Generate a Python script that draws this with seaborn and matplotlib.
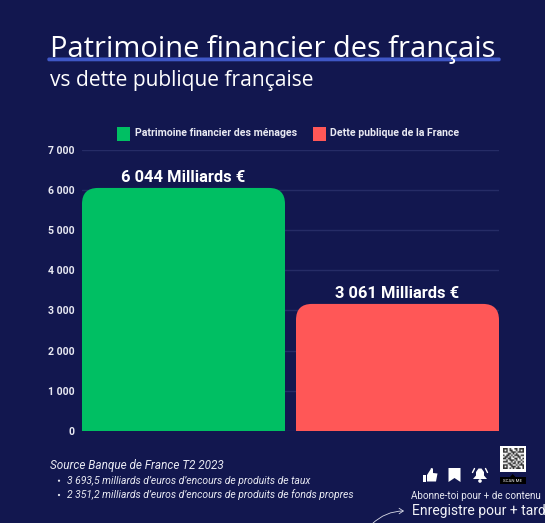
import numpy as np
import pandas as pd
import matplotlib
matplotlib.use("Agg")
import matplotlib.pyplot as plt
import seaborn as sns
from matplotlib.path import Path
from matplotlib.patches import PathPatch, Rectangle, FancyBboxPatch, Polygon, Circle, FancyArrowPatch

categories = ["Patrimoine financier des ménages", "Dette publique de la France"]
values = [6044, 3160]
value_labels = ["6 044 Milliards €", "3 061 Milliards €"]
colors = ["#00BF63", "#FF5757"]
yticks = [0, 1000, 2000, 3000, 4000, 5000, 6000, 7000]
ytick_labels = ["0", "1 000", "2 000", "3 000", "4 000", "5 000", "6 000", "7 000"]
title = "Patrimoine financier des français"
subtitle = "vs dette publique française"
source = "Source Banque de France T2 2023"
bullets = ["3 693,5 milliards d’euros d’encours de produits de taux",
           "2 351,2 milliards d’euros d’encours de produits de fonds propres"]

BG = "#12174F"
W, H = 545, 523
sns.set_theme(style="dark")
plt.rcParams["font.family"] = ["Roboto", "DejaVu Sans"]

fig = plt.figure(figsize=(W / 100, H / 100), dpi=100, facecolor=BG)
ax = fig.add_axes([82 / W, 1 - 431 / H, 417 / W, 281.5 / H], facecolor=BG)

df = pd.DataFrame({"cat": categories, "val": values})
sns.barplot(data=df, x="cat", y="val", hue="cat", palette=colors, width=203 / 214,
            legend=False, ax=ax, saturation=1)
ax.set_xlim(-101.5 / 214, 1 + 101.5 / 214)
ax.set_ylim(0, 7000)
ax.set_xlabel(""); ax.set_ylabel("")
ax.set_xticks([])
ax.set_yticks(yticks, ytick_labels, color="#E8E9F2", fontsize=7.6, fontweight="bold")
ax.tick_params(axis="y", length=0, pad=5.5)
ax.grid(axis="y", color="#262C66", lw=1)
ax.set_axisbelow(True)
for s in ax.spines.values():
    s.set_visible(False)

# Round the top corners of each bar, using each bar's own geometry
rx, ry = 16 / 214, 16 * 7000 / 281.5
for bar, lab in zip(list(ax.patches), value_labels):
    x0, w, h = bar.get_x(), bar.get_width(), bar.get_height()
    x1 = x0 + w
    verts = [(x0, 0), (x0, h - ry), (x0, h), (x0 + rx, h), (x1 - rx, h), (x1, h), (x1, h - ry), (x1, 0), (x0, 0)]
    codes = [Path.MOVETO, Path.LINETO, Path.CURVE3, Path.CURVE3, Path.LINETO, Path.CURVE3, Path.CURVE3, Path.LINETO, Path.CLOSEPOLY]
    ax.add_patch(PathPatch(Path(verts, codes), fc=bar.get_facecolor(), ec="none", zorder=3))
    bar.set_visible(False)
    ax.annotate(lab, (x0 + w / 2, h), xytext=(0, 1.8), textcoords="offset points", ha="center", va="bottom",
                color="white", fontsize=11.9, fontweight="bold")

# Overlay in pixel coordinates for the poster furniture
ov = fig.add_axes([0, 0, 1, 1], facecolor="none")
ov.set_xlim(0, W); ov.set_ylim(H, 0); ov.axis("off")

# Title
ov.add_patch(FancyBboxPatch((49, 59.2), 450, 0.4, boxstyle="round,pad=1.7", fc="#3F57C6", ec="none", zorder=1))
ov.text(50.5, 57.5, title, color="white", fontsize=20.9, family="Open Sans", fontweight=500, va="baseline", zorder=2)
ov.text(50.5, 86, subtitle, color="white", fontsize=15.1, family="Open Sans", fontweight=500, va="baseline", zorder=2)

# Legend
for x, c, lab in zip([117, 312.5], colors, categories):
    ov.add_patch(Rectangle((x, 127), 13, 14, fc=c, ec="none"))
    ov.text(x + 18, 133.3, lab, color="#E8E9F2", fontsize=7.6, fontweight="bold", va="center")

# Source
ov.text(50, 465, source, color="#E8E9F2", fontsize=8.45, style="italic", va="center")
for y, b in zip([480.7, 495], bullets):
    ov.add_patch(Circle((59, y), 1.1, fc="#E8E9F2", ec="none"))
    ov.text(67, y, b, color="#E8E9F2", fontsize=7.45, style="italic", va="center")

# Icons
ov.add_patch(Rectangle((423, 475), 3.2, 6.5, fc="white", ec="none"))
ov.add_patch(Polygon([(427, 475), (430.5, 469.5), (431, 468), (433, 468.5), (433, 473), (437.5, 473.5), (436, 481.5), (427, 481.5)], fc="white", ec="none"))
ov.add_patch(Polygon([(448.5, 468), (460.5, 468), (460.5, 482), (454.5, 478), (448.5, 482)], fc="white", ec="none"))
ov.add_patch(Polygon([(473, 479), (476, 475.5), (476, 472), (478.5, 468.5), (481.5, 468.5), (484, 472), (484, 475.5), (487, 479)], fc="white", ec="none"))
ov.add_patch(Circle((480, 481), 1.8, fc="white", ec="none"))
ov.plot([472.5, 474.5], [472.5, 468.5], color="white", lw=1)
ov.plot([487.5, 485.5], [472.5, 468.5], color="white", lw=1)

# QR
ov.add_patch(Rectangle((500, 446), 25.5, 25.7, fc="white", ec="none", zorder=1))
qr_rows = ["1110100110111", "1010110010101", "1110011101111", "0001101010000", "1011010111011",
           "0110101001100", "1101100110101", "0010111010010", "1110010101101", "0001101101010",
           "1110110010111", "1010011101001", "1110101011101"]
qr = np.array([[int(c) for c in r] for r in qr_rows])
ov.imshow(1 - qr * 0.8, cmap="gray", vmin=0, vmax=1, extent=(502.5, 523, 469.5, 449), interpolation="bilinear",
          aspect="auto", zorder=2)
ov.set_xlim(0, W); ov.set_ylim(H, 0)
ov.add_patch(Rectangle((499.5, 477), 26.5, 7, fc="black", ec="none"))
ov.add_patch(Polygon([(510, 477), (512.7, 474), (515.5, 477)], fc="black", ec="none"))
ov.text(512.7, 480.6, "SCAN ME", color="white", fontsize=3.2, ha="center", va="center")

ov.text(411, 496, "Abonne-toi pour + de contenu", color="#E8E9F2", fontsize=7.15, va="center")
ov.text(412, 510.7, "Enregistre pour + tard", color="#F2F3F8", fontsize=10.0, va="center")
ov.add_patch(FancyArrowPatch((372, 524), (404, 511), connectionstyle="arc3,rad=-0.2", arrowstyle="->,head_length=3,head_width=2",
                             color="#DADCE8", lw=0.6, shrinkA=0, shrinkB=0))

fig.savefig("out.png", dpi=100, facecolor=BG)
